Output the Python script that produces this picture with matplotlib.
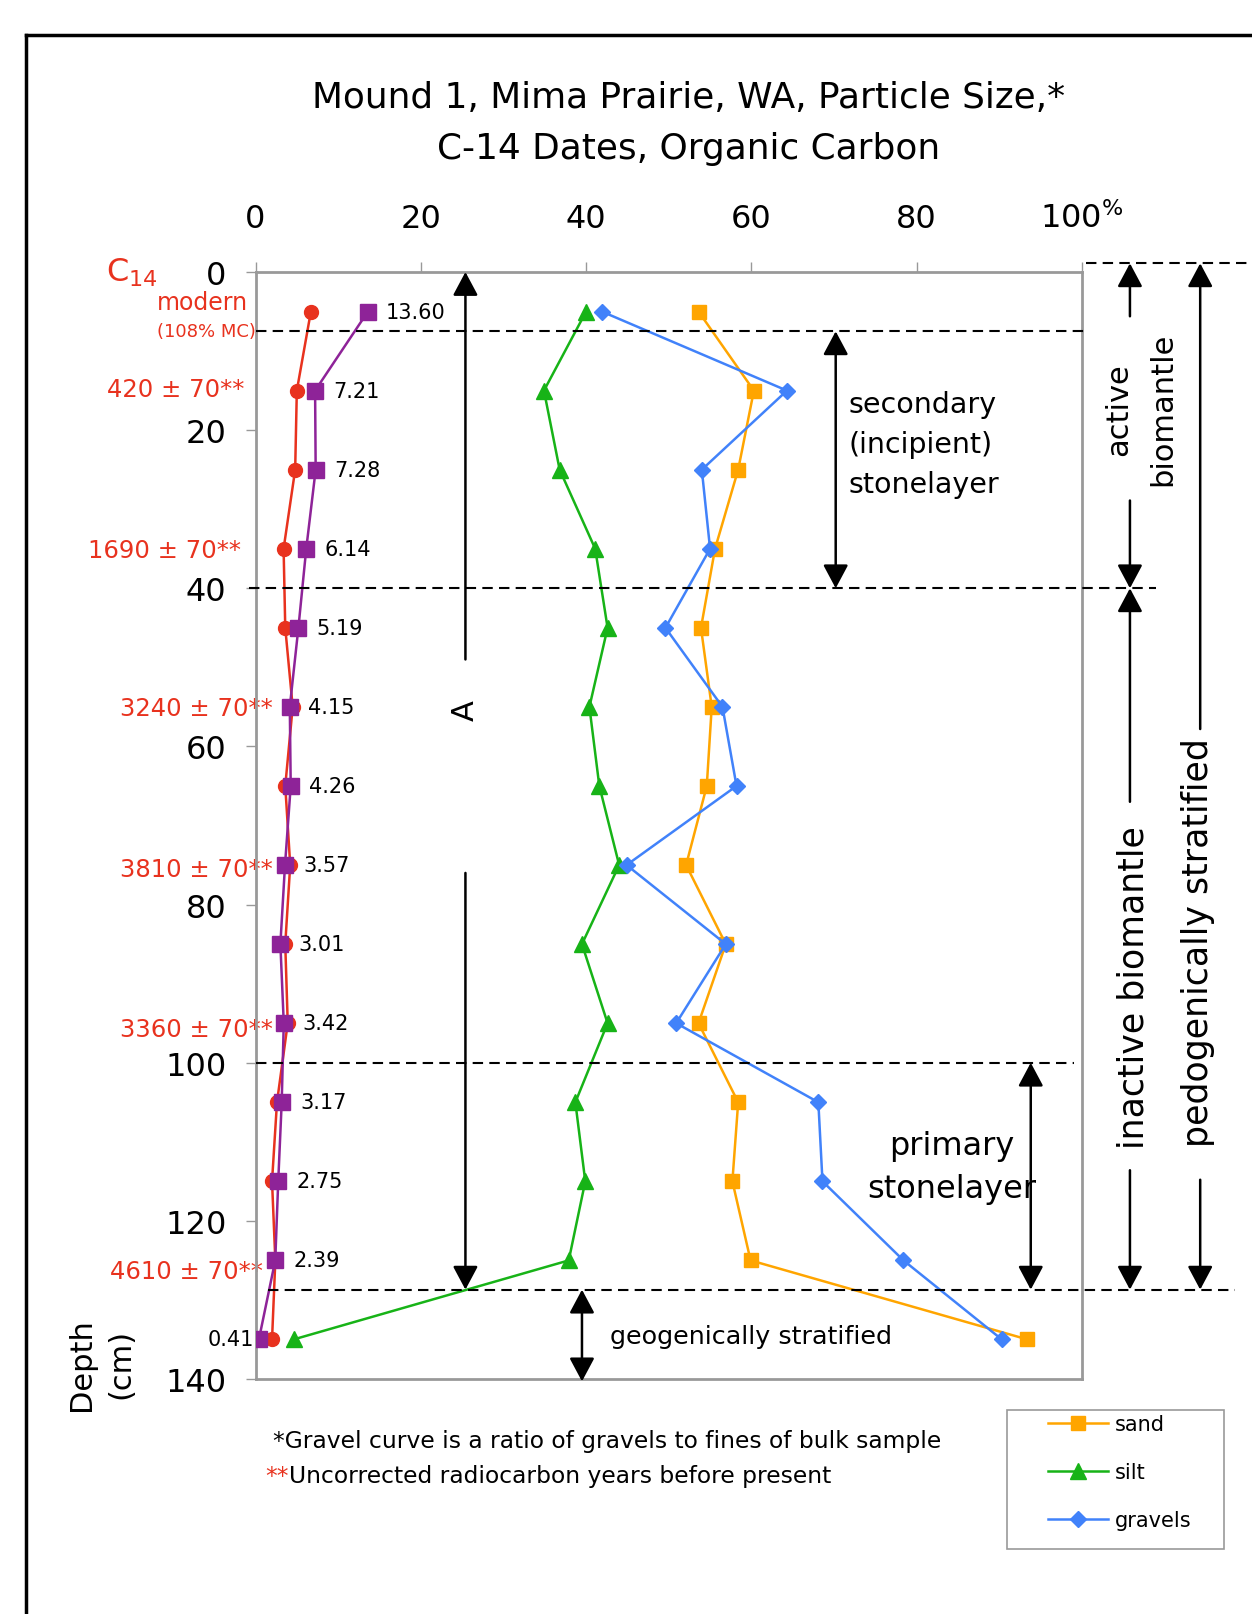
import numpy as np
import matplotlib
matplotlib.use('Agg')
import matplotlib.pyplot as plt
from matplotlib.lines import Line2D
from matplotlib.patches import Rectangle

# Données
depth = [5, 15, 25, 35, 45, 55, 65, 75, 85, 95, 105, 115, 125, 135]
sand = [53.6, 60.3, 58.4, 55.6, 53.9, 55.2, 54.6, 52.1, 56.9, 53.6, 58.4, 57.7, 59.9, 93.4]
silt = [40.0, 34.9, 36.8, 41.1, 42.6, 40.4, 41.6, 44.0, 39.5, 42.6, 38.7, 39.9, 37.9, 4.6]
gravels = [41.9, 64.3, 54.0, 55.0, 49.6, 56.5, 58.2, 44.9, 56.9, 50.9, 68.1, 68.6, 78.4, 90.3]
org_carbon = [13.60, 7.21, 7.28, 6.14, 5.19, 4.15, 4.26, 3.57, 3.01, 3.42, 3.17, 2.75, 2.39, 0.41]
red_series = [6.7, 5.0, 4.8, 3.4, 3.6, 4.5, 3.6, 4.2, 3.6, 3.9, 2.6, 2.0, 2.4, 2.0]

c14_labels = ['420 ± 70**', '1690 ± 70**', '3240 ± 70**', '3810 ± 70**', '3360 ± 70**', '4610 ± 70**']
c14_depth = [14.8, 35.2, 55.2, 75.5, 95.7, 126.4]
c14_x = [-1.4, -1.8, 2.1, 2.1, 2.1, 0.9]

xticks = [0, 20, 40, 60, 80, 100]
xticklabels = ['0', '20', '40', '60', '80', r'100$^{\%}$']
yticks = [0, 20, 40, 60, 80, 100, 120, 140]

ORANGE = '#FFA500'
GREEN = '#17B317'
BLUE = '#4182FA'
PURPLE = '#8E2398'
RED = '#E8321E'

W, H = 1252, 1615
S = 0.9712  # échelle de l'image affichée
fig = plt.figure(figsize=(W / 100, H / 100), dpi=100)
ax = fig.add_axes([255.5 / W, 1 - 1380 / H, 826.5 / W, 1107 / H])

ax.set_xlim(0, 100)
ax.set_ylim(140, 0)

ax.plot(red_series, depth, color=RED, marker='o', markersize=10, lw=1.8, zorder=3)
ax.plot(org_carbon, depth, color=PURPLE, marker='s', markersize=11, lw=1.8, zorder=4)
ax.plot(sand, depth, color=ORANGE, marker='s', markersize=10, lw=1.8, zorder=3, label='sand')
ax.plot(silt, depth, color=GREEN, marker='^', markersize=11, lw=1.8, zorder=3, label='silt')
ax.plot(gravels, depth, color=BLUE, marker='D', markersize=8, lw=1.8, zorder=4, label='gravels')

# étiquettes carbone organique
for v, d in zip(org_carbon, depth):
    if v < 1:
        ax.text(v - 0.6, d, f'{v:.2f}', ha='right', va='center', fontsize=15, zorder=6)
    else:
        ax.text(v + 2.2, d, f'{v:.2f}', ha='left', va='center', fontsize=15, zorder=6)

# dates C14
for lab, d, x in zip(c14_labels, c14_depth, c14_x):
    ax.text(x, d, lab, ha='right', va='center', color=RED, fontsize=17.5, clip_on=False, zorder=2)
ax.text(-14.9, 0, r'C$_{14}$', ha='center', va='center', color=RED, fontsize=23, clip_on=False)
ax.text(-0.9, 3.8, 'modern', ha='right', va='center', color=RED, fontsize=17, clip_on=False)
ax.text(0, 7.4, '(108% MC)', ha='right', va='center', color=RED, fontsize=13, clip_on=False)

# lignes pointillées
dash = dict(color='black', lw=1.5, ls=(0, (5, 3)), clip_on=False, zorder=5)
ax.plot([0, 100.5], [7.5, 7.5], **dash)
ax.plot([-0.8, 109], [40, 40], **dash)
ax.plot([0, 99], [100, 100], **dash)
ax.plot([1.5, 118.5], [128.7, 128.7], **dash)
ax.plot([100.5, 125], [-1.1, -1.1], **dash)


def arrow(x, y0, y1, style='-|>'):
    ax.annotate('', xy=(x, y1), xytext=(x, y0), annotation_clip=False,
                arrowprops=dict(arrowstyle=style + ',head_length=0.6,head_width=0.32',
                                mutation_scale=24, lw=1.8, color='black',
                                shrinkA=0, shrinkB=0))


# A
arrow(25.4, 49, 0)
arrow(25.4, 76, 128.7)
ax.text(25.4, 55.3, 'A', rotation=90, ha='center', va='center', fontsize=22)

# secondary stonelayer
arrow(70.2, 40, 7.5, '<|-|>')
ax.text(71.7, 21.8, 'secondary\n(incipient)\nstonelayer', ha='left', va='center',
        fontsize=20.5, linespacing=1.55)

# primary stonelayer
arrow(93.8, 128.7, 100, '<|-|>')
ax.text(84.3, 113.2, 'primary\nstonelayer', ha='center', va='center', fontsize=23,
        linespacing=1.5)

# geogenically stratified
arrow(39.5, 140.3, 128.7, '<|-|>')
ax.text(42.9, 134.6, 'geogenically stratified', ha='left', va='center', fontsize=18.3)

# biomantle
arrow(105.8, 5.6, -1.1)
arrow(105.8, 28.9, 40)
ax.text(107.1, 17.3, 'active\nbiomantle', rotation=90, ha='center', va='center',
        fontsize=22, linespacing=1.65, clip_on=False)
arrow(105.8, 67, 40)
arrow(105.8, 113.6, 128.7)
ax.text(106.2, 90.4, 'inactive biomantle', rotation=90, ha='center', va='center',
        fontsize=25, clip_on=False)
arrow(114.3, 57.8, -1.1)
arrow(114.3, 114.8, 128.7)
ax.text(114.0, 84.7, 'pedogenically stratified', rotation=90, ha='center', va='center',
        fontsize=25, clip_on=False)

# Depth label
ax.text(-18.7, 138, 'Depth\n(cm)', rotation=90, ha='center', va='center',
        fontsize=22, linespacing=1.45, clip_on=False)

# axes
ax.xaxis.tick_top()
ax.set_xticks(xticks)
ax.set_xticklabels(xticklabels)
ax.set_yticks(yticks)
ax.tick_params(axis='x', length=7, width=1, color='#999999', pad=20, labelsize=23)
ax.tick_params(axis='y', length=7, width=1, color='#999999', pad=14, labelsize=23)
for s in ax.spines.values():
    s.set_color('#999999')
    s.set_linewidth(2)

# notes
fig.text(265 / S / W, 1 - 1400 / S / H,
         '*Gravel curve is a ratio of gravels to fines of bulk sample',
         ha='left', va='center', fontsize=16.8)
t_star = fig.text(258 / S / W, 1 - 1434 / S / H, '**', color=RED,
                  ha='left', va='center', fontsize=16.8)
ax.annotate('Uncorrected radiocarbon years before present', xy=(1, 0.5),
            xycoords=t_star, ha='left', va='center', fontsize=16.8,
            annotation_clip=False)

# titre
fig.text(689 / W, 1 - 98 / H, 'Mound 1, Mima Prairie, WA, Particle Size,*',
         ha='center', va='center', fontsize=25.8)
fig.text(689 / W, 1 - 149 / H, 'C-14 Dates, Organic Carbon',
         ha='center', va='center', fontsize=25.8)

# légende
fig.add_artist(Rectangle((1007 / W, 1 - 1550 / H), 217 / W, 139 / H,
                         transform=fig.transFigure, facecolor='white',
                         edgecolor='#999999', lw=1.2))
leg = fig.legend(loc='upper left', bbox_to_anchor=(1048 / W, 1 - 1415 / H),
                 fontsize=15, frameon=False, handlelength=2.9,
                 labelspacing=1.35, borderpad=0, handletextpad=0.3,
                 borderaxespad=0)

# cadre
fig.add_artist(Line2D([26 / W, 1], [1 - 36 / H, 1 - 36 / H], color='black', lw=2.5))
fig.add_artist(Line2D([26 / W, 26 / W], [0, 1 - 36 / H], color='black', lw=2.5))

plt.savefig('out.png', dpi=100)
